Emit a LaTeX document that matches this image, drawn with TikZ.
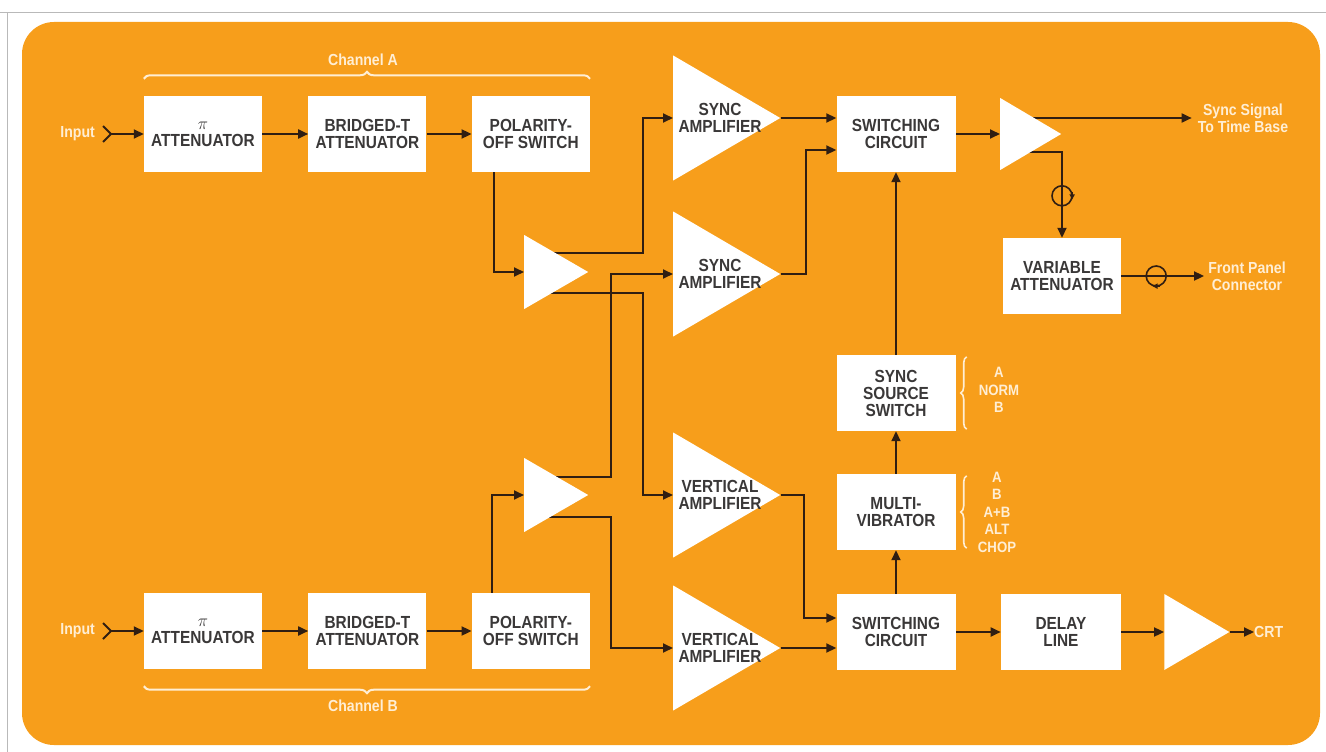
\documentclass[tikz,border=0pt]{standalone}
\usepackage{fontspec}
\setmainfont{Liberation Sans}[FakeStretch=0.88]
\usepackage{tikz}
\usetikzlibrary{shapes, arrows.meta, calc, positioning, decorations.pathreplacing}

\definecolor{panel}{RGB}{247,158,27}
\definecolor{wirecol}{RGB}{48,30,18}
\definecolor{ink}{RGB}{58,56,56}
\definecolor{cream}{RGB}{255,238,212}

\pgfdeclarelayer{back}
\pgfdeclarelayer{wires}
\pgfsetlayers{back,wires,main}

\begin{document}
\begin{tikzpicture}[x=1pt, y=-1pt, >={Triangle[length=10pt, width=9pt]}, node distance=46pt]
	\tikzstyle{block} = [fill=white, minimum width=118pt, minimum height=76pt, inner sep=0pt, align=center, text=ink, font=\bfseries\fontsize{17.5}{17}\selectfont]
	\tikzstyle{amp} = [isosceles triangle, isosceles triangle stretches, fill=white, inner sep=0pt, anchor=west]
	\tikzstyle{amptext} = [align=center, text=ink, font=\bfseries\fontsize{17.5}{17}\selectfont, inner sep=0pt]
	\tikzstyle{tag} = [text=cream, align=center, font=\bfseries\fontsize{16}{17}\selectfont, inner sep=0pt]
	\tikzstyle{opts} = [tag, font=\bfseries\fontsize{15}{17.5}\selectfont]
	\tikzstyle{link} = [draw=wirecol, line width=1.8pt]
	\tikzstyle{loopc} = [circle, draw=wirecol, line width=1.6pt, minimum size=20pt, inner sep=0pt]
	\tikzstyle{chbrace} = [draw=cream, line width=2pt, decorate, decoration={brace, amplitude=7pt}]

	\useasboundingbox (0,0) rectangle (1326,752);
	\begin{pgfonlayer}{back}
		\fill[panel, rounded corners=32pt] (22,22) rectangle (1320,745);
		\draw[gray!55, line width=1pt] (0,13) -- (1326,13);
		\draw[gray!55, line width=1pt] (7,13) -- (7,752);
	\end{pgfonlayer}

	% channel A
	\node[block] (piA) at (203,134) {$\pi$\\ATTENUATOR};
	\node[block, right=of piA] (bridgeA) {BRIDGED-T\\ATTENUATOR};
	\node[block, right=45pt of bridgeA] (polA) {POLARITY-\\OFF SWITCH};
	\node[tag, anchor=east] (inA) at (95,134) {Input};
	\coordinate (jackA) at (111,134);
	\node[tag] (chA) at (363,60) {Channel A};

	% channel B
	\node[block] (piB) at (203,631) {$\pi$\\ATTENUATOR};
	\node[block, right=of piB] (bridgeB) {BRIDGED-T\\ATTENUATOR};
	\node[block, right=45pt of bridgeB] (polB) {POLARITY-\\OFF SWITCH};
	\node[tag, anchor=east] (inB) at (95,631) {Input};
	\coordinate (jackB) at (111,631);
	\node[tag] (chB) at (363,706) {Channel B};

	% amplifiers
	\node[amp, minimum width=74pt, minimum height=64pt] (bufA) at (524,272) {};
	\node[amp, minimum width=74pt, minimum height=64pt] (bufB) at (524,495) {};
	\node[amp, minimum width=125pt, minimum height=107pt] (syncA) at (673,118) {};
	\node[amp, minimum width=125pt, minimum height=107pt] (syncB) at (673,274) {};
	\node[amp, minimum width=125pt, minimum height=107pt] (vertA) at (673,495) {};
	\node[amp, minimum width=125pt, minimum height=107pt] (vertB) at (673,648) {};
	\node[amptext] (syncAt) at ($(syncA.west)+(47,0)$) {SYNC\\AMPLIFIER};
	\node[amptext] (syncBt) at ($(syncB.west)+(47,0)$) {SYNC\\AMPLIFIER};
	\node[amptext] (vertAt) at ($(vertA.west)+(47,0)$) {VERTICAL\\AMPLIFIER};
	\node[amptext] (vertBt) at ($(vertB.west)+(47,0)$) {VERTICAL\\AMPLIFIER};

	% switching and outputs
	\node[block, minimum width=119pt] (swTop) at (896,134) {SWITCHING\\CIRCUIT};
	\node[amp, minimum width=72pt, minimum height=61pt] (outTop) at (1000,134) {};
	\node[block] (varAtt) at (1062,276) {VARIABLE\\ATTENUATOR};
	\node[block, minimum width=119pt] (srcSw) at (896,393) {SYNC\\SOURCE\\SWITCH};
	\node[block, minimum width=119pt] (multi) at (896,512) {MULTI-\\VIBRATOR};
	\node[block, minimum width=119pt] (swBot) at (896,632) {SWITCHING\\CIRCUIT};
	\node[block, minimum width=120pt, right=45pt of swBot] (delay) {DELAY\\LINE};
	\node[amp, minimum width=76pt, minimum height=65pt, right=43pt of delay] (outBot) {};

	\node[tag] (tbase) at (1243,118) {Sync Signal\\To Time Base};
	\node[tag] (panelOut) at (1247,276) {Front Panel\\Connector};
	\node[tag, anchor=west] (crt) at (1254,632) {CRT};
	\node[opts] (srcOpt) at (999,390) {A\\NORM\\B};
	\node[opts] (multiOpt) at (997,512) {A\\B\\A+B\\ALT\\CHOP};

	% braces
	\draw[chbrace] ($(piA.north west)+(0,-17)$) -- ($(polA.north east)+(0,-17)$);
	\draw[chbrace] ($(polB.south east)+(0,17)$) -- ($(piB.south west)+(0,17)$);
	\draw[chbrace, line width=1.6pt, decoration={amplitude=6pt}] ($(srcSw.south east)+(11,-2)$) -- ($(srcSw.north east)+(11,2)$);
	\draw[chbrace, line width=1.6pt, decoration={amplitude=6pt}] ($(multi.south east)+(11,-2)$) -- ($(multi.north east)+(11,2)$);

	% loops on the sync outputs
	\node[loopc] (loopA) at ($(varAtt.north)+(0,-42)$) {};
	\draw[link, line width=1.2pt, -{Triangle[length=5pt, width=5pt]}] (loopA.20) -- (loopA.-20);
	\node[loopc] (loopB) at ($(varAtt.east)+(35,0)$) {};
	\draw[link, line width=1.2pt, -{Triangle[length=5pt, width=5pt]}] (loopB.-70) -- (loopB.-110);

	\begin{pgfonlayer}{wires}
		\draw[link] ($(jackA)+(-8,-8)$) -- (jackA) -- ($(jackA)+(-8,8)$);
		\draw[link] ($(jackB)+(-8,-8)$) -- (jackB) -- ($(jackB)+(-8,8)$);
		\draw[link, ->] (jackA) -- (piA);
		\draw[link, ->] (piA) -- (bridgeA);
		\draw[link, ->] (bridgeA) -- (polA);
		\draw[link, ->] (jackB) -- (piB);
		\draw[link, ->] (piB) -- (bridgeB);
		\draw[link, ->] (bridgeB) -- (polB);

		\draw[link, ->] ($(polA.south west)+(22,0)$) |- (bufA.west);
		\draw[link, ->] ($(polB.north west)+(20,0)$) |- (bufB.west);
		\draw[link, ->] ($(bufA.west)+(20,-19)$) -| ($(syncA.west)+(-30,0)$) -- (syncA.west);
		\draw[link, ->] ($(bufA.west)+(20,21)$) -| ($(vertA.west)+(-30,0)$) -- (vertA.west);
		\draw[link, ->] ($(bufB.west)+(20,-18)$) -| ($(syncB.west)+(-62,0)$) -- (syncB.west);
		\draw[link, ->] ($(bufB.west)+(20,22)$) -| ($(vertB.west)+(-62,0)$) -- (vertB.west);

		\draw[link, ->] (syncA.apex) -- (syncA.apex -| swTop.west);
		\draw[link, ->] (syncB.apex) -| ($(swTop.west)+(-30,16)$) -- ($(swTop.west)+(0,16)$);
		\draw[link, ->] (vertA.apex) -| ($(swBot.west)+(-32,-14)$) -- ($(swBot.west)+(0,-14)$);
		\draw[link, ->] (vertB.apex) -- (vertB.apex -| swBot.west);

		\draw[link, ->] (swTop.east) -- (outTop.west);
		\draw[link, ->] ($(outTop.west)+(20,-16)$) -- ($(tbase.west)+(-6,0)$);
		\draw[link, ->] ($(outTop.west)+(20,18)$) -| (varAtt.north);
		\draw[link, ->] (varAtt.east) -- ($(panelOut.west)+(-4,0)$);

		\draw[link, ->] (swBot) -- (delay);
		\draw[link, ->] (delay.east) -- (outBot.west);
		\draw[link, ->] (outBot.apex) -- (crt.west);
		\draw[link, ->] (swBot) -- (multi);
		\draw[link, ->] (multi) -- (srcSw);
		\draw[link, ->] (srcSw) -- (swTop);
	\end{pgfonlayer}
\end{tikzpicture}
\end{document}
